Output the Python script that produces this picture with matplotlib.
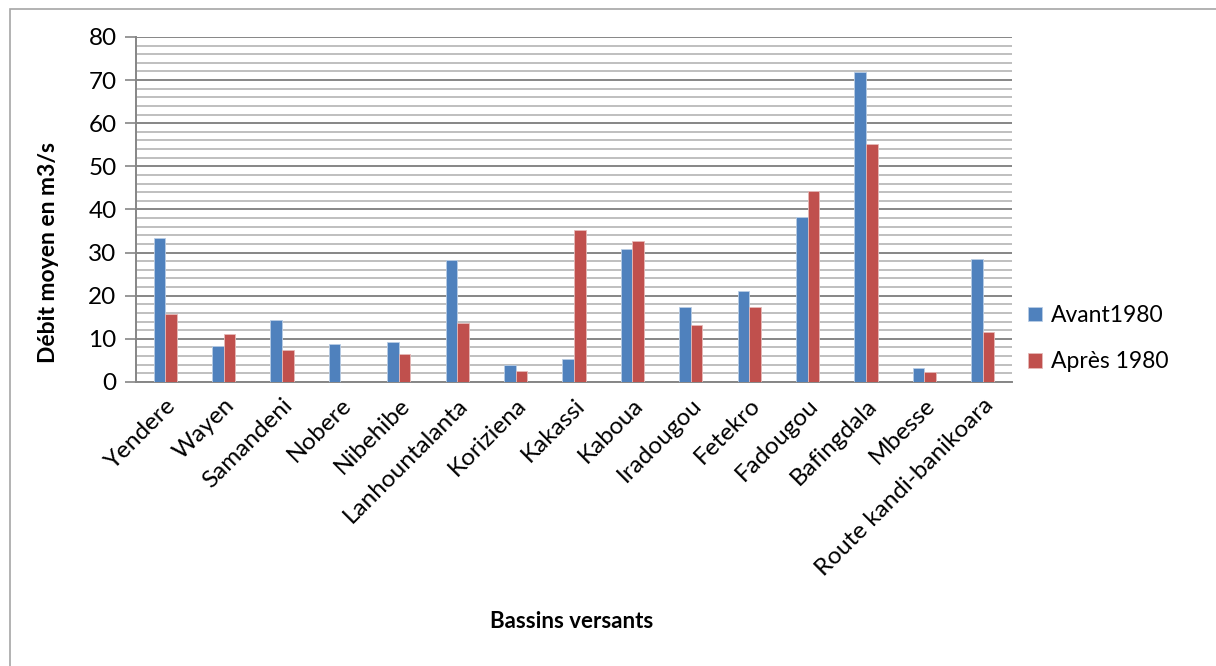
import numpy as np
import matplotlib.pyplot as plt
from matplotlib.patches import Rectangle
from matplotlib.ticker import MultipleLocator

# Débit moyen par bassin versant, avant et après 1980
bassins = ['Yendere', 'Wayen', 'Samandeni', 'Nobere', 'Nibehibe', 'Lanhountalanta',
           'Koriziena', 'Kakassi', 'Kaboua', 'Iradougou', 'Fetekro', 'Fadougou',
           'Bafingdala', 'Mbesse', 'Route kandi-banikoara']
avant_1980 = [33.4, 8.3, 14.3, 8.8, 9.2, 28.4, 4.0, 5.3, 30.8, 17.5, 21.1, 38.2, 71.9, 3.3, 28.6]
apres_1980 = [15.7, 11.2, 7.4, 0.0, 6.6, 13.6, 2.6, 35.3, 32.6, 13.3, 17.4, 44.4, 55.2, 2.4, 11.6]

plt.rcParams['font.family'] = ['Lato', 'DejaVu Sans']

fig = plt.figure(figsize=(12.16, 6.66), dpi=100)
ax = fig.add_axes([136 / 1216, 1 - 382 / 666, (1012 - 136) / 1216, (382 - 37) / 666])

x = np.arange(len(bassins))
w = 0.2
ax.bar(x - w / 2, avant_1980, w, color='#4F81BD', edgecolor='#B9CDE5', linewidth=0.6,
       label='Avant1980', zorder=3)
ax.bar(x + w / 2, apres_1980, w, color='#C0504D', edgecolor='#E6B9B8', linewidth=0.6,
       label='Après 1980', zorder=3)

ax.set_xlim(-0.5, len(bassins) - 0.5)
ax.set_ylim(0, 80)
ax.yaxis.set_major_locator(MultipleLocator(10))
ax.yaxis.set_minor_locator(MultipleLocator(2))
ax.grid(which='minor', axis='y', color='#BFBFBF', linewidth=1.4, zorder=0)
ax.grid(which='major', axis='y', color='#868686', linewidth=1.4, zorder=1)
ax.tick_params(axis='y', which='minor', length=0)
ax.tick_params(axis='y', which='major', length=8, width=1.2, color='#868686',
               labelsize=17.5, pad=6)
ax.tick_params(axis='x', length=0, labelsize=17.5, pad=9)

ax.set_xticks(x)
ax.set_xticklabels(bassins, rotation=45, ha='right', rotation_mode='anchor')

for side in ['top', 'right']:
    ax.spines[side].set_visible(False)
for side in ['left', 'bottom']:
    ax.spines[side].set_color('#868686')
    ax.spines[side].set_linewidth(1.4)

ax.set_ylabel('Débit moyen en m3/s', fontsize=16.5, fontweight='bold')
ax.yaxis.set_label_coords(-0.088, 0.375)
fig.text(572 / 1216, 1 - 621 / 666, 'Bassins versants', fontsize=16,
         fontweight='bold', ha='center', va='center')

ax.legend(loc='center left', bbox_to_anchor=(1.0, 0.125), frameon=False, fontsize=16.5,
          handlelength=0.6, handleheight=0.6, handletextpad=0.4, labelspacing=1.1,
          borderaxespad=0.3)

# cadre du graphique
fig.patches.append(Rectangle((10 / 1216, -0.05), 1.1, 1 - 9 / 666 + 0.05,
                             transform=fig.transFigure, fill=False,
                             edgecolor='#A6A6A6', linewidth=1.2))

fig.savefig('out.png', dpi=100)
